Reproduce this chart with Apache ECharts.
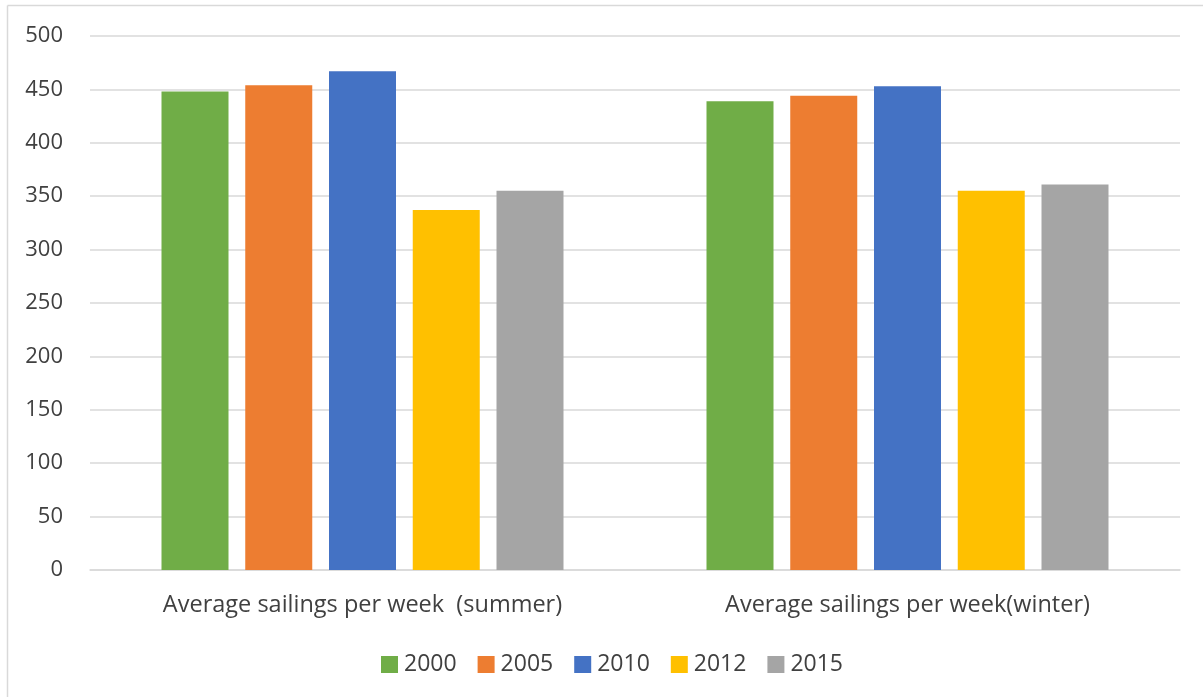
<!DOCTYPE html>
<html>
<head>
<meta charset="utf-8">
<style>
  html, body { margin: 0; padding: 0; background: #ffffff; }
  #chart { width: 1203px; height: 697px; }
</style>
<script src="https://cdn.jsdelivr.net/npm/echarts@6/dist/echarts.min.js"></script>
</head>
<body>
<div id="chart"></div>
<script>
const categories = ['Average sailings per week  (summer)', 'Average sailings per week(winter)'];
const seriesNames = ['2000', '2005', '2010', '2012', '2015'];
const values2000 = [448, 439];
const values2005 = [454, 444];
const values2010 = [467, 453];
const values2012 = [337, 355];
const values2015 = [355, 361];
const yTicks = [0, 50, 100, 150, 200, 250, 300, 350, 400, 450, 500];

const colors = ['#70AD47', '#ED7D31', '#4472C4', '#FFC000', '#A5A5A5'];
const allValues = [values2000, values2005, values2010, values2012, values2015];
const FONT = 'Open Sans';
const TXT = '#404040';

const chart = echarts.init(document.getElementById('chart'));
chart.setOption({
  animation: false,
  color: colors,
  textStyle: { fontFamily: FONT },
  graphic: [
    { type: 'line', shape: { x1: 7.5, y1: 5.5, x2: 1203, y2: 5.5 }, style: { stroke: '#D9D9D9', lineWidth: 1.5 } },
    { type: 'line', shape: { x1: 7.5, y1: 5.5, x2: 7.5, y2: 697 }, style: { stroke: '#D9D9D9', lineWidth: 1.5 } }
  ],
  legend: {
    left: 376,
    top: 648,
    itemWidth: 17,
    itemHeight: 17,
    itemGap: 21,
    icon: 'rect',
    textStyle: { fontFamily: FONT, fontSize: 23, color: TXT, padding: [0, 0, 0, 1] },
    data: seriesNames
  },
  grid: { left: 90, right: 23, top: 36, bottom: 127, containLabel: false },
  xAxis: {
    type: 'category',
    data: categories,
    axisLine: { show: true, lineStyle: { color: '#D9D9D9', width: 1.5 } },
    axisTick: { show: false },
    axisLabel: { fontFamily: FONT, fontSize: 23.5, color: TXT, margin: 23 }
  },
  yAxis: {
    type: 'value',
    min: yTicks[0],
    max: yTicks[yTicks.length - 1],
    interval: 50,
    axisLine: { show: false },
    axisTick: { show: false },
    splitLine: { lineStyle: { color: '#D9D9D9', width: 1.5 } },
    axisLabel: { fontFamily: FONT, fontSize: 22, color: TXT, margin: 27 }
  },
  series: seriesNames.map((name, i) => ({
    name: name,
    type: 'bar',
    data: allValues[i],
    barWidth: 67,
    barGap: '25%',
    itemStyle: { color: colors[i] }
  }))
});
</script>
</body>
</html>
